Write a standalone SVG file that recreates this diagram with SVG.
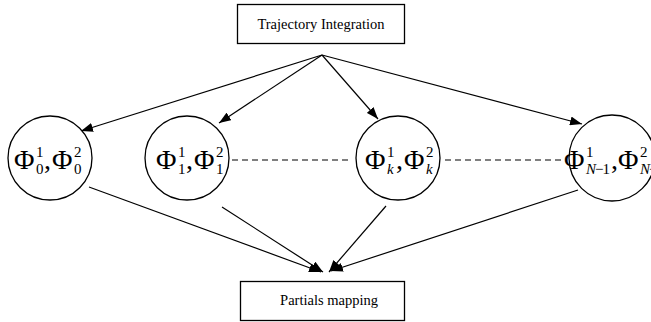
<svg xmlns="http://www.w3.org/2000/svg" width="651" height="322" viewBox="0 0 651 322">
<defs>
<marker id="ah" markerWidth="12" markerHeight="9" refX="12" refY="4.5" orient="auto" markerUnits="userSpaceOnUse">
<path d="M0,0 L12,4.5 L0,9 Z" fill="#000"/>
</marker>
<style>
.box{fill:#fff;stroke:#000;stroke-width:1.3}
.circ{fill:#fff;stroke:#000;stroke-width:1.3}
text{font-family:"Liberation Serif",serif;fill:#000}
.lbl{font-size:14.5px}
.phi{font-size:28px}
.sc{font-size:15px}
.it{font-style:italic}
.tight{letter-spacing:-1px}
.conn line{stroke:#000;stroke-width:1.2}
.dash{stroke:#000;stroke-width:1.2;stroke-dasharray:6,4}
</style>
</defs>
<rect width="651" height="322" fill="#fff"/>
<g id="connectors" class="conn">
<line x1="322" y1="55" x2="81" y2="131" marker-end="url(#ah)"/>
<line x1="322" y1="55" x2="219" y2="123" marker-end="url(#ah)"/>
<line x1="322" y1="55" x2="378" y2="119" marker-end="url(#ah)"/>
<line x1="322" y1="55" x2="582" y2="124" marker-end="url(#ah)"/>
<line x1="89" y1="187" x2="321" y2="272" marker-end="url(#ah)"/>
<line x1="222" y1="207" x2="323" y2="272" marker-end="url(#ah)"/>
<line x1="386" y1="206" x2="329" y2="272" marker-end="url(#ah)"/>
<line x1="578" y1="190" x2="331" y2="271" marker-end="url(#ah)"/>
<line class="dash" x1="232" y1="160" x2="351" y2="160"/>
<line class="dash" x1="445" y1="160" x2="565" y2="160"/>
</g>
<g id="top" font-family="Liberation Serif, serif">
<rect class="box" x="237.5" y="4.5" width="167" height="39"/>
<text class="lbl" x="321" y="29" text-anchor="middle" font-family="Liberation Serif, serif">Trajectory Integration</text>
</g>
<g id="bottom" font-family="Liberation Serif, serif">
<rect class="box" x="240.5" y="281.5" width="164" height="39"/>
<text class="lbl" x="329" y="305" text-anchor="middle" font-family="Liberation Serif, serif">Partials mapping</text>
</g>
<g id="n0" font-family="Liberation Serif, serif">
<circle class="circ" cx="50" cy="158" r="42"/>
<text class="phi" x="14" y="169">Φ</text>
<text class="sc" x="36" y="157">1</text>
<text class="sc" x="36" y="174">0</text>
<text class="phi" x="44" y="169">,</text>
<text class="phi" x="52" y="169">Φ</text>
<text class="sc" x="74" y="157">2</text>
<text class="sc" x="74" y="174">0</text>
</g>
<g id="n1" font-family="Liberation Serif, serif">
<circle class="circ" cx="187" cy="158" r="42"/>
<text class="phi" x="156" y="169">Φ</text>
<text class="sc" x="178" y="157">1</text>
<text class="sc" x="178" y="174">1</text>
<text class="phi" x="186" y="169">,</text>
<text class="phi" x="194" y="169">Φ</text>
<text class="sc" x="216" y="157">2</text>
<text class="sc" x="216" y="174">1</text>
</g>
<g id="nk" font-family="Liberation Serif, serif">
<circle class="circ" cx="398" cy="158" r="42"/>
<text class="phi" x="365" y="169">Φ</text>
<text class="sc" x="387" y="157">1</text>
<text class="sc it" x="387" y="174">k</text>
<text class="phi" x="396" y="169">,</text>
<text class="phi" x="404" y="169">Φ</text>
<text class="sc" x="426" y="157">2</text>
<text class="sc it" x="426" y="174">k</text>
</g>
<g id="nN" font-family="Liberation Serif, serif">
<circle class="circ" cx="612" cy="158" r="43"/>
<text class="phi" x="564" y="169">Φ</text>
<text class="sc" x="586" y="157">1</text>
<text class="sc tight" x="586" y="174"><tspan class="it">N</tspan>−1</text>
<text class="phi" x="611" y="169">,</text>
<text class="phi" x="618" y="169">Φ</text>
<text class="sc" x="640" y="157">2</text>
<text class="sc tight" x="640" y="174"><tspan class="it">N</tspan>−</text>
</g>
</svg>
